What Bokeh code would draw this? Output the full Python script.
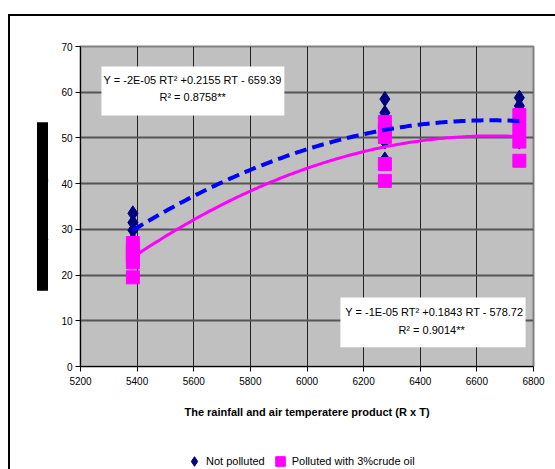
import numpy as np
from bokeh.plotting import figure
from bokeh.layouts import column
from bokeh.models import (Range1d, FixedTicker, BoxAnnotation, Label, Legend,
                          LegendItem, Title)
from bokeh.embed import file_html
from bokeh.resources import INLINE

# ---- data ----
rt_levels = [5385, 6275, 6750]
not_polluted = [
    [33.5, 31.5, 29.8, 26.5, 27.7],
    [58.5, 55.5, 52.0, 50.0, 49.2, 45.3],
    [58.8, 57.0, 53.5, 50.0, 49.2],
]
polluted = [
    [27.0, 25.5, 24.5, 24.0, 22.8, 19.5],
    [53.5, 51.6, 50.2, 44.3, 40.6],
    [55.0, 52.0, 49.2, 45.0],
]
x_ticks = [5200, 5400, 5600, 5800, 6000, 6200, 6400, 6600, 6800]
y_ticks = [0, 10, 20, 30, 40, 50, 60, 70]
eq_not_polluted = "Y = -2E-05 RT\u00b2 +0.2155 RT - 659.39"
r2_not_polluted = "R\u00b2 = 0.8758**"
eq_polluted = "Y = -1E-05 RT\u00b2 +0.1843 RT - 578.72"
r2_polluted = "R\u00b2 = 0.9014**"
x_title = "The rainfall and air temperatere product (R x T)"
y_title = "Growth of plants during the season"   # obscured (black bar) in the original
legend_labels = ["Not polluted", "Polluted with 3%crude oil"]

NAVY, BLUE, MAGENTA = "#000080", "#0000FF", "#FF00FF"
FONT = "Liberation Sans"

def flatten(levels, groups):
    xs, ys = [], []
    for x, g in zip(levels, groups):
        xs += [x] * len(g)
        ys += g
    return np.array(xs, float), np.array(ys, float)

x_np, y_np = flatten(rt_levels, not_polluted)
x_p, y_p = flatten(rt_levels, polluted)

# quadratic trendlines (as in the spreadsheet)
xx = np.linspace(min(rt_levels), max(rt_levels), 200)
fit_np = np.polyval(np.polyfit(x_np, y_np, 2), xx)
fit_p = np.polyval(np.polyfit(x_p, y_p, 2), xx)

p = figure(width=545, height=413, output_backend="svg", toolbar_location=None,
           x_range=Range1d(5200, 6800), y_range=Range1d(0, 70),
           min_border_left=70, min_border_right=22, min_border_top=30,
           min_border_bottom=63)

p.background_fill_color = "#C0C0C0"
p.border_fill_color = "white"
p.outline_line_color = "#808080"
p.outline_line_width = 2

p.xaxis.ticker = FixedTicker(ticks=x_ticks)
p.yaxis.ticker = FixedTicker(ticks=y_ticks)
for ax in (p.xaxis, p.yaxis):
    ax.axis_line_color = "black"
    ax.major_tick_line_color = "black"
    ax.minor_tick_line_color = None
    ax.major_tick_in = 0
    ax.major_label_text_font = FONT
    ax.major_label_text_font_size = "10px"
    ax.major_label_text_color = "black"
p.xaxis.major_tick_out = 5
p.yaxis.major_tick_out = 5
p.xaxis.major_label_standoff = 5
p.yaxis.major_label_standoff = 3
p.xaxis.axis_label = x_title
p.xaxis.axis_label_text_font = FONT
p.xaxis.axis_label_text_font_size = "11px"
p.xaxis.axis_label_text_font_style = "bold"
p.xaxis.axis_label_text_color = "black"
p.xaxis.axis_label_standoff = 18

p.xgrid.grid_line_color = "#222222"
p.xgrid.grid_line_width = 1
p.ygrid.grid_line_color = "#555555"
p.ygrid.grid_line_width = 2

p.scatter(x_np, y_np, marker="diamond", size=15, fill_color=NAVY, line_color=NAVY)
p.scatter(x_p, y_p, marker="square", size=13, fill_color=MAGENTA, line_color=MAGENTA)
p.line(xx, fit_np, line_color=BLUE, line_width=4, line_dash="12 6")
p.line(xx, fit_p, line_color=MAGENTA, line_width=3)

# equation boxes
p.add_layout(BoxAnnotation(left=5274, right=5920, bottom=54.9, top=65.6,
                           fill_color="white", fill_alpha=1, line_alpha=0))
p.add_layout(BoxAnnotation(left=6118, right=6772, bottom=4.2, top=15.1,
                           fill_color="white", fill_alpha=1, line_alpha=0))
for txt, x, y in [(eq_not_polluted, 5596, 62.7), (r2_not_polluted, 5596, 58.9),
                  (eq_polluted, 6450, 11.9), (r2_polluted, 6440, 8.0)]:
    p.add_layout(Label(x=x, y=y, text=txt, text_align="center",
                       text_baseline="middle", text_font=FONT,
                       text_font_size="11px", text_color="black"))

# y title: rendered as a solid black bar in the original
p.add_layout(Title(text=y_title, align="center", standoff=21,
                   text_font=FONT, text_font_size="10px", text_color="black",
                   background_fill_color="black"), "left")

# legend strip below the chart (its key glyphs use the same data, out of view)
p2 = figure(width=545, height=40, output_backend="svg", toolbar_location=None,
            x_range=Range1d(0, 1), y_range=Range1d(0, 1),
            x_axis_location=None, y_axis_location=None, min_border=0)
p2.outline_line_color = None
p2.grid.visible = False
k1 = p2.scatter(x_np, y_np, marker="diamond", fill_color=NAVY, line_color=NAVY)
k2 = p2.scatter(x_p, y_p, marker="square", fill_color=MAGENTA, line_color=MAGENTA)
legend = Legend(items=[LegendItem(label=legend_labels[0], renderers=[k1]),
                       LegendItem(label=legend_labels[1], renderers=[k2])],
                orientation="horizontal", location=(102, -4),
                glyph_width=24, glyph_height=24, label_height=12,
                label_standoff=0, spacing=3, padding=0, margin=0,
                border_line_alpha=0, background_fill_alpha=0,
                label_text_font=FONT, label_text_font_size="11px",
                label_text_color="black")
p2.add_layout(legend, "center")

layout = column(p, p2, spacing=0)
layout.styles = {"border-top": "2px solid black", "border-left": "2px solid black",
                 "margin-top": "14px", "margin-left": "8px"}

open("out.html", "w").write(file_html(layout, INLINE))
